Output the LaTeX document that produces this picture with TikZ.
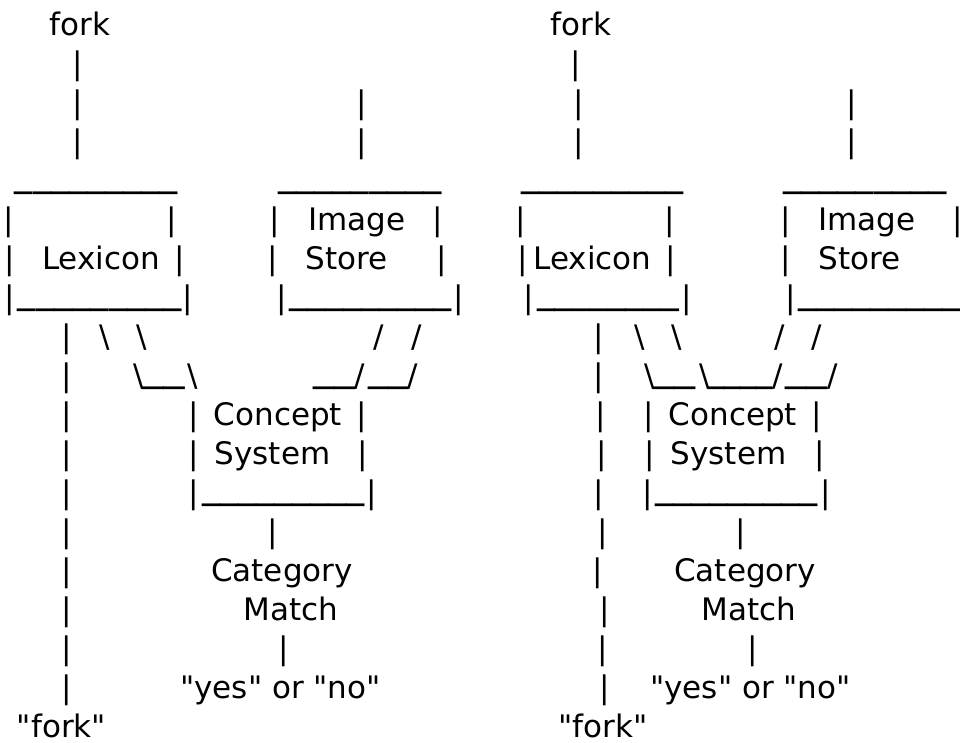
\documentclass[tikz,border=0pt]{standalone}
\usepackage{fontspec}
\setmainfont{DejaVu Sans}
\usepackage{graphicx}
\newcommand\fs{\fontsize{31}{37}\selectfont}
\newcommand\qq{\textquotedbl}
\tikzset{tx/.style={anchor=base, inner sep=0pt, outer sep=0pt, font=\fs}}
\newcommand\Tx[4]{\node[tx] (#1) at (#2,{35+39*(#3-1)}) {#4};}
\newcommand\Pp[3]{\Tx{#1}{#2}{#3}{|}}
\newcommand\usy{1.25}
\newcommand\ushift{-5.3}
\newcommand\Ur[5]{%
  \pgfmathsetmacro\usx{(#3-#2)/(15.5*#5)}%
  \node[tx] (#1) at ({(#2+#3)/2},{35+39*(#4-1)+\ushift}) {\scalebox{\usx}[\usy]{\foreach\i in {1,...,#5}{\_}}};}
\begin{document}
\begin{tikzpicture}[x=1pt,y=-1pt]
\useasboundingbox (0,0) rectangle (960,742);
% left
\Tx{lfork}{80}{1}{fork}
\Pp{la2}{78}{2}
\Pp{la3}{78}{3} \Pp{lb3}{362}{3}
\Pp{la4}{78}{4} \Pp{lb4}{362}{4}
\Ur{lu5a}{15}{178}{5}{9} \Ur{lu5b}{278}{442}{5}{9}
\Pp{la6}{9}{6} \Pp{lb6}{172}{6} \Pp{lc6}{275}{6} \Tx{limage}{357}{6}{Image} \Pp{ld6}{438}{6}
\Pp{la7}{10}{7} \Tx{llex}{101}{7}{Lexicon} \Pp{lb7}{180}{7} \Pp{lc7}{273}{7} \Tx{lstore}{346.5}{7}{Store} \Pp{ld7}{442}{7}
\Pp{la8}{10}{8} \Ur{lu8a}{18}{182}{8}{9} \Pp{lb8}{188}{8} \Pp{lc8}{282}{8} \Ur{lu8b}{289}{452}{8}{9} \Pp{ld8}{459}{8}
\Pp{la9}{67}{9} \Tx{lbs9a}{105}{9}{\textbackslash} \Tx{lbs9b}{142}{9}{\textbackslash} \Tx{lsl9a}{379}{9}{/} \Tx{lsl9b}{417}{9}{/}
\Pp{la10}{67}{10} \Tx{lbs10a}{139}{10}{\textbackslash} \Ur{lu10a}{142}{185}{10}{2} \Tx{lbs10b}{193}{10}{\textbackslash}
\Ur{lu10b}{313}{355}{10}{2} \Tx{lsl10a}{360}{10}{/} \Ur{lu10c}{368}{408}{10}{2} \Tx{lsl10b}{413}{10}{/}
\Pp{la11}{67}{11} \Pp{lb11}{194}{11} \Tx{lconcept}{278}{11}{Concept} \Pp{lc11}{362}{11}
\Pp{la12}{67}{12} \Pp{lb12}{194}{12} \Tx{lsystem}{272.5}{12}{System} \Pp{lc12}{363}{12}
\Pp{la13}{67}{13} \Pp{lb13}{194}{13} \Ur{lu13}{202}{365}{13}{9} \Pp{lc13}{372}{13}
\Pp{la14}{67}{14} \Pp{lb14}{273}{14}
\Pp{la15}{67}{15} \Tx{lcat}{282}{15}{Category}
\Pp{la16}{67}{16} \Tx{lmatch}{291}{16}{Match}
\Pp{la17}{67}{17} \Pp{lb17}{284}{17}
\Pp{la18}{67}{18} \Tx{lyn}{280.5}{18}{\qq yes\qq{} or \qq no\qq}
\Tx{lfork2}{61.5}{19}{\qq fork\qq}
% right
\Tx{rfork}{581}{1}{fork}
\Pp{ra2}{576}{2}
\Pp{ra3}{579}{3} \Pp{rb3}{852}{3}
\Pp{ra4}{579}{4} \Pp{rb4}{852}{4}
\Ur{ru5a}{521}{683}{5}{9} \Ur{ru5b}{783}{947}{5}{9}
\Pp{ra6}{521}{6} \Pp{rb6}{670}{6} \Pp{rc6}{786}{6} \Tx{rimage}{867}{6}{Image} \Pp{rd6}{958}{6}
\Pp{ra7}{523}{7} \Tx{rlex}{592.5}{7}{Lexicon} \Pp{rb7}{671}{7} \Pp{rc7}{786}{7} \Tx{rstore}{859.5}{7}{Store}
\Pp{ra8}{529}{8} \Ur{ru8a}{537}{679}{8}{8} \Pp{rb8}{687}{8} \Pp{rc8}{791}{8} \Ur{ru8b}{798}{961}{8}{9}
\Pp{ra9}{599}{9} \Tx{rbs9a}{640}{9}{\textbackslash} \Tx{rbs9b}{677}{9}{\textbackslash} \Tx{rsl9a}{780}{9}{/} \Tx{rsl9b}{817}{9}{/}
\Pp{ra10}{599}{10} \Tx{rbs10a}{650}{10}{\textbackslash} \Ur{ru10a}{653}{695}{10}{2} \Tx{rbs10b}{705}{10}{\textbackslash}
\Ur{ru10b}{708}{773}{10}{4} \Tx{rsl10a}{778}{10}{/} \Ur{ru10c}{785}{827}{10}{2} \Tx{rsl10b}{833}{10}{/}
\Pp{ra11}{601}{11} \Pp{rb11}{649}{11} \Tx{rconcept}{733}{11}{Concept} \Pp{rc11}{817}{11}
\Pp{ra12}{602}{12} \Pp{rb12}{650}{12} \Tx{rsystem}{728.5}{12}{System} \Pp{rc12}{820}{12}
\Pp{ra13}{599}{13} \Pp{rb13}{648}{13} \Ur{ru13}{655}{818}{13}{9} \Pp{rc13}{826}{13}
\Pp{ra14}{603}{14} \Pp{rb14}{741}{14}
\Pp{ra15}{598}{15} \Tx{rcat}{745}{15}{Category}
\Pp{ra16}{605}{16} \Tx{rmatch}{749}{16}{Match}
\Pp{ra17}{603}{17} \Pp{rb17}{753}{17}
\Pp{ra18}{605}{18} \Tx{ryn}{750.5}{18}{\qq yes\qq{} or \qq no\qq}
\Tx{rfork2}{603}{19}{\qq fork\qq}
\end{tikzpicture}
\end{document}
